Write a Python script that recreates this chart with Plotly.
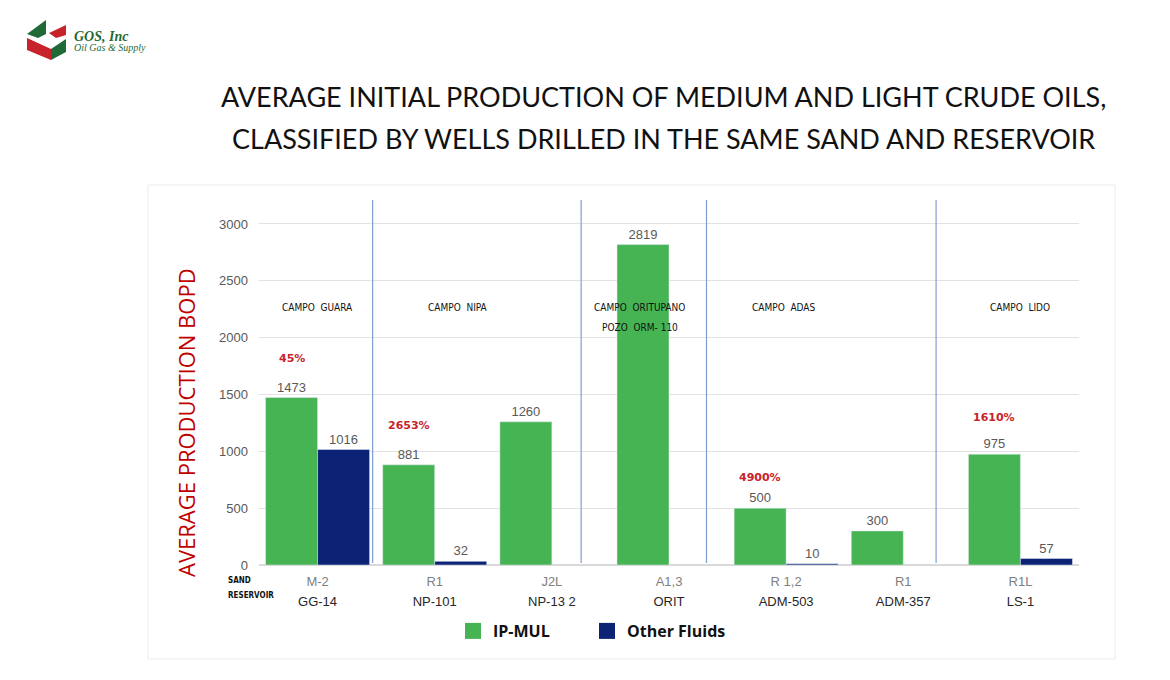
import plotly.graph_objects as go

# ---------------- data ----------------
reservoirs = ["GG-14", "NP-101", "NP-13 2", "ORIT", "ADM-503", "ADM-357", "LS-1"]
sands = ["M-2", "R1", "J2L", "A1,3", "R 1,2", "R1", "R1L"]
ip_mul = [1473, 881, 1260, 2819, 500, 300, 975]
other_fluids = [1016, 32, None, None, 10, None, 57]

fields = ["CAMPO  GUARA", "CAMPO  NIPA", "CAMPO  ORITUPANO", "CAMPO  ADAS", "CAMPO  LIDO"]
field_label_pos = [0.0, 1.2, 2.75, 3.98, 6.0]
field_sub = ["", "", "POZO  ORM- 110", "", ""]
field_bounds = [0.47, 2.25, 3.32, 5.28]

pct_labels = ["45%", "2653%", "4900%", "1610%"]
pct_index = [0, 1, 4, 6]
pct_shift = [39, 39, 31, 37]

y_ticks = [0, 500, 1000, 1500, 2000, 2500, 3000]

# ---------------- layout helpers ----------------
W, H = 1170, 680
L, R, T, B = 259, 1079, 200, 565


def px(x):
    return (x - L) / (R - L)


def py(y):
    return (B - y) / (B - T)


GREEN = "#47b454"
BLUE = "#0b2275"
GREY = "#595959"
RED_T = "#c00000"
VAL_FONT = dict(family="Liberation Sans, Arial", size=13, color=GREY)

fig = go.Figure()
fig.add_trace(go.Bar(
    x=reservoirs, y=ip_mul, name="IP-MUL", marker_color=GREEN,
    text=[str(v) for v in ip_mul], textposition="outside",
    textfont=VAL_FONT, cliponaxis=False, showlegend=False, legendgroup="ip",
))
fig.add_trace(go.Bar(
    x=reservoirs, y=other_fluids, name="Other Fluids", marker_color=BLUE,
    text=[str(v) if v is not None else "" for v in other_fluids], textposition="outside",
    textfont=VAL_FONT, cliponaxis=False, showlegend=False, legendgroup="of",
))
# legend entries (square markers)
fig.add_trace(go.Scatter(x=[None], y=[None], mode="markers", name="<b>IP-MUL</b>",
                         marker=dict(symbol="square", size=22, color=GREEN),
                         legendgroup="ip", legend="legend"))
fig.add_trace(go.Scatter(x=[None], y=[None], mode="markers", name="<b>Other Fluids</b>",
                         marker=dict(symbol="square", size=22, color=BLUE),
                         legendgroup="of", legend="legend2"))

ticktext = [
    f"<span style='color:#808080;font-size:13px'>{s}</span><br>"
    f"<span style='color:#262626;font-size:13px'>{r}</span>"
    for s, r in zip(sands, reservoirs)
]

shapes = []
# panel border
shapes.append(dict(type="rect", xref="paper", yref="paper",
                   x0=px(148), x1=px(1115), y0=py(659), y1=py(185),
                   line=dict(color="#ebebeb", width=1), layer="below"))
# field separators
for b in field_bounds:
    shapes.append(dict(type="line", xref="x", yref="paper", x0=b, x1=b,
                       y0=py(563), y1=1, line=dict(color="#7f9fd0", width=1.2)))


# logo (box icon)
def path(points):
    return "M " + " L ".join(f"{px(a)},{py(b)}" for a, b in points) + " Z"


logo_parts = [
    ([(27, 34), (46, 20), (46, 34), (38, 38)], "#1f6a36"),
    ([(49, 33), (66, 25), (66, 35), (56, 38)], "#c8222b"),
    ([(27, 38), (51, 49), (51, 60), (27, 50)], "#c8222b"),
    ([(51, 49), (66, 39), (66, 52), (51, 60)], "#1f6a36"),
]
for pts, col in logo_parts:
    shapes.append(dict(type="path", xref="paper", yref="paper", path=path(pts),
                       fillcolor=col, line=dict(width=0)))

annotations = []


def note(x, y, text, font, xanchor="center", yanchor="middle", **kw):
    annotations.append(dict(xref="paper", yref="paper", x=px(x), y=py(y), text=text,
                            showarrow=False, xanchor=xanchor, yanchor=yanchor, font=font, **kw))


TITLE_FONT = dict(family="Lato", size=27, color="#111111")
note(663, 97, "AVERAGE INITIAL PRODUCTION OF MEDIUM AND LIGHT CRUDE OILS,", TITLE_FONT)
note(663, 139, "CLASSIFIED BY WELLS DRILLED IN THE SAME SAND AND RESERVOIR", TITLE_FONT)
# logo text
note(72, 36, "<b><i>GOS, Inc</i></b>",
     dict(family="Liberation Serif", size=14, color="#1f6a36"), xanchor="left")
note(72, 48, "<i>Oil Gas &amp; Supply</i>",
     dict(family="Liberation Serif", size=10, color="#1f6a36"), xanchor="left")
# y axis title
note(186, 423, "AVERAGE PRODUCTION BOPD",
     dict(family="Open Sans", size=22, color=RED_T), textangle=-90)
# sand / reservoir labels
note(226, 580, "<b>SAND</b>", dict(family="DejaVu Sans Condensed", size=8, color="#111111"),
     xanchor="left")
note(226, 595, "<b>RESERVOIR</b>", dict(family="DejaVu Sans Condensed", size=8, color="#111111"),
     xanchor="left")
# field labels
FIELD_FONT = dict(family="Liberation Sans Narrow, DejaVu Sans Condensed", size=10, color="#111111")
for name, sub, pos in zip(fields, field_sub, field_label_pos):
    annotations.append(dict(xref="x", yref="paper", x=pos, y=py(307), yanchor="middle",
                            text=name, showarrow=False, font=FIELD_FONT))
    if sub:
        annotations.append(dict(xref="x", yref="paper", x=pos, y=py(327), yanchor="middle",
                                text=sub, showarrow=False, font=FIELD_FONT))
# percentage labels above the green bars
for lab, idx, sh in zip(pct_labels, pct_index, pct_shift):
    annotations.append(dict(xref="x", yref="y", x=idx - 0.222, y=ip_mul[idx], yshift=sh,
                            yanchor="middle", text=f"<b>{lab}</b>", showarrow=False,
                            font=dict(family="DejaVu Sans", size=11, color="#c8222b")))

LEG_FONT = dict(family="Open Sans", size=16, color="#111111")
fig.update_layout(
    width=W, height=H,
    margin=dict(l=L, r=W - R, t=T, b=H - B),
    paper_bgcolor="white", plot_bgcolor="white",
    barmode="group", bargap=0.112, bargroupgap=0,
    showlegend=True,
    legend=dict(orientation="h", x=px(453), xanchor="left", y=py(631), yanchor="middle",
                font=LEG_FONT, itemclick=False),
    legend2=dict(orientation="h", x=px(587), xanchor="left", y=py(631), yanchor="middle",
                 font=LEG_FONT, itemclick=False),
    xaxis=dict(tickvals=reservoirs, ticktext=ticktext, showgrid=False, showline=False,
               ticks="", tickfont=dict(family="Liberation Sans, Arial", size=15.5),
               ticklabelstandoff=4, range=[-0.5, 6.5]),
    yaxis=dict(range=[0, 3211], tickvals=y_ticks, showgrid=True, gridcolor="#e2e2e2",
               gridwidth=1, zeroline=True, zerolinecolor="#d9d9d9", showline=False,
               ticklabelstandoff=10,
               tickfont=dict(family="Liberation Sans, Arial", size=13, color=GREY)),
    shapes=shapes,
    annotations=annotations,
)

fig.write_html("out.html")
